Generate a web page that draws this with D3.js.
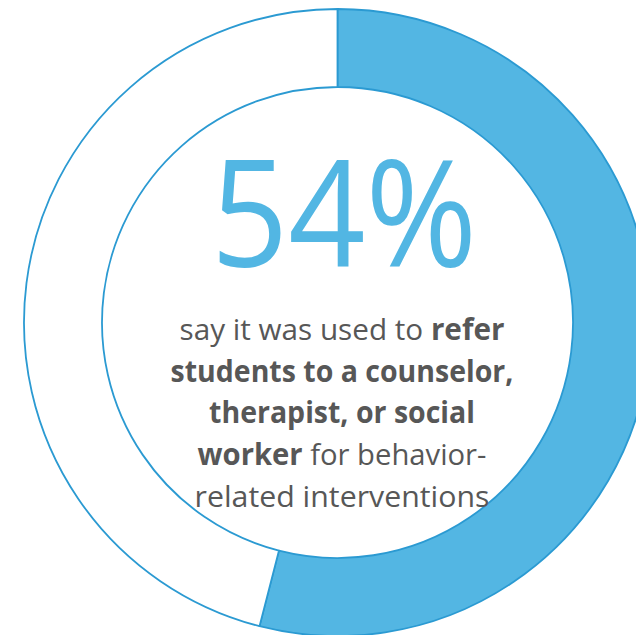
<!DOCTYPE html>
<html>
<head>
<meta charset="utf-8">
<script src="https://cdn.jsdelivr.net/npm/d3@7"></script>
<style>
  html, body { margin: 0; padding: 0; background: #fff; }
  svg { display: block; }
</style>
</head>
<body>
<svg id="chart" width="636" height="635"></svg>
<script>
// Share of respondents, and the rest of the ring
const categories = ["Used to refer students", "Other"];
const values = [54, 46];
const headline = "54%";
// Caption lines; each part is [text, bold?]
const captionLines = [
  [["say it was used to ", false], ["refer", true]],
  [["students to a counselor,", true]],
  [["therapist, or social", true]],
  [["worker", true], [" for behavior-", false]],
  [["related interventions", false]]
];

const W = 636, H = 635;
const cx = 337.5, cy = 322.5;
const outerR = 313.5, innerR = 235.5;
const fillColors = ["#53b6e3", "#ffffff"];
const strokeColor = "#2b9ad2";
const textGray = "#575757";

const svg = d3.select("#chart");
const g = svg.append("g").attr("transform", `translate(${cx},${cy})`);

const pie = d3.pie().sort(null).value(d => d);
const arc = d3.arc().innerRadius(innerR).outerRadius(outerR);

g.selectAll("path.slice")
  .data(pie(values))
  .join("path")
  .attr("class", "slice")
  .attr("d", arc)
  .attr("fill", (d, i) => fillColors[i])
  .attr("stroke", strokeColor)
  .attr("stroke-width", 1.8)
  .attr("stroke-linejoin", "round");

// Big percentage
const big = svg.append("text")
  .attr("x", 344)
  .attr("y", 267)
  .attr("text-anchor", "middle")
  .attr("font-family", "'Open Sans', sans-serif")
  .attr("font-size", 148)
  .attr("font-weight", 400)
  .attr("fill", "#52b6e3")
  .text(headline);
fitWidth(big, 344, 266);

// Caption
const baselines = [340, 382, 423, 465, 507];
const targetWidths = [325, 343, 266, 289, 295];
captionLines.forEach((parts, i) => {
  const t = svg.append("text")
    .attr("x", 342)
    .attr("y", baselines[i])
    .attr("text-anchor", "middle")
    .attr("font-family", "'Open Sans', sans-serif")
    .attr("font-size", 30)
    .attr("fill", textGray);
  parts.forEach(([s, b]) => {
    t.append("tspan")
      .attr("font-weight", b ? 700 : 400)
      .text(s);
  });
  fitWidth(t, 342, targetWidths[i]);
});

// Squeeze a text line horizontally around its centre to a given width
function fitWidth(sel, centerX, width) {
  const w = sel.node().getComputedTextLength();
  const sx = width / w;
  sel.attr("transform", `translate(${centerX},0) scale(${sx},1) translate(${-centerX},0)`);
}
</script>
</body>
</html>
